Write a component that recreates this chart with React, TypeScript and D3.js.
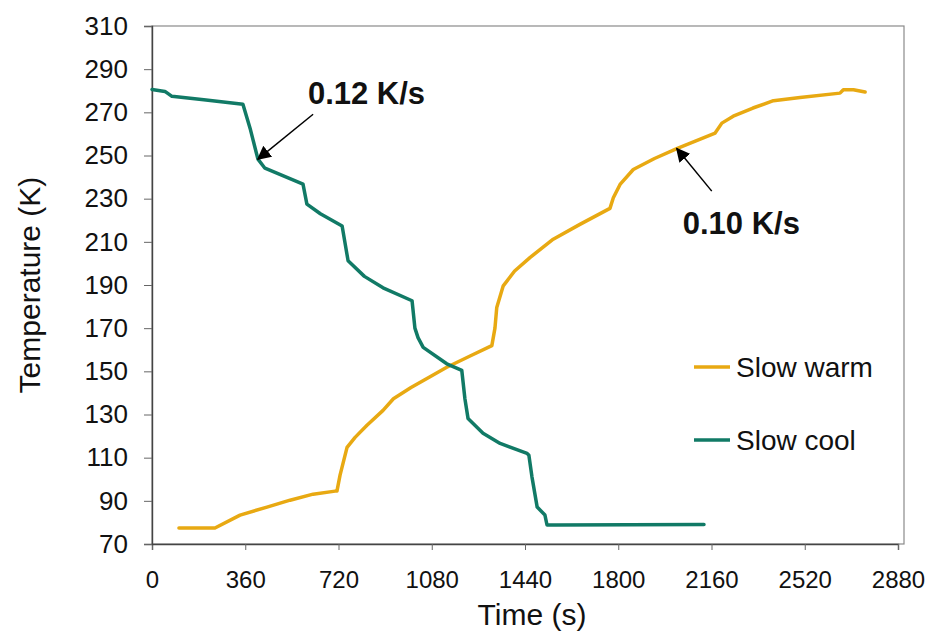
import React, { useEffect, useRef } from 'react';
import * as d3 from 'd3';

// Slow cool (time s, temperature K)
const coolTime = [0, 50, 77, 200, 351, 380, 409, 436, 583, 598, 650, 734, 757, 820, 892, 1004, 1015, 1027, 1047, 1138, 1196, 1208, 1220, 1278, 1344, 1448, 1455, 1467, 1487, 1517, 1525, 1560, 2131];
const coolTemp = [280.6, 279.7, 277.4, 275.8, 273.7, 262, 248.3, 244.1, 236.7, 227.5, 223, 217.3, 201.2, 194, 188.7, 182.7, 170, 165.6, 161.1, 153.5, 150.4, 137.3, 128.2, 121.3, 116.6, 112, 111.1, 101, 87.1, 83.4, 78.8, 78.8, 79];

// Slow warm
const warmTime = [104, 243, 340, 444, 533, 622, 707, 714, 726, 753, 784, 830, 892, 932, 1000, 1070, 1138, 1230, 1312, 1324, 1331, 1356, 1400, 1459, 1549, 1652, 1768, 1781, 1807, 1858, 1940, 2026, 2100, 2174, 2200, 2244, 2320, 2399, 2502, 2656, 2669, 2708, 2753];
const warmTemp = [77.4, 77.4, 83.4, 87.1, 90.3, 93.1, 94.5, 94.5, 101.9, 114.8, 119.4, 125, 131.9, 137.3, 142.5, 147.3, 151.9, 157.2, 161.9, 170, 179.6, 189.6, 196.5, 202.7, 211.2, 218.1, 225.5, 230.4, 236.6, 243.5, 248.6, 253.2, 256.8, 260.4, 265, 268.2, 272, 275.4, 276.9, 278.9, 280.5, 280.5, 279.4];

const xTicks = [0, 360, 720, 1080, 1440, 1800, 2160, 2520, 2880];
const yTicks = [70, 90, 110, 130, 150, 170, 190, 210, 230, 250, 270, 290, 310];

const seriesNames = ['Slow warm', 'Slow cool'];
const seriesColors = ['#E8A912', '#117A66'];

// annotations in data units: label position, arrow tail, arrow tip
const annotations = [
  { text: '0.12 K/s', lx: 602, ly: 273.7, x1: 622, y1: 269.1, x2: 409, y2: 248.3 },
  { text: '0.10 K/s', lx: 2049, ly: 213.6, x1: 2161, y1: 233.5, x2: 2026, y2: 253.2 },
];

export default function App() {
  const ref = useRef<SVGSVGElement>(null);

  useEffect(() => {
    const svg = d3.select(ref.current);
    svg.selectAll('*').remove();

    const font = 'Liberation Sans, Arial, sans-serif';
    const left = 152;
    const top = 26;
    const bottom = 544;
    const xEnd = 898;
    const frameRight = 904;

    const x = d3.scaleLinear().domain([0, 2880]).range([left, xEnd]);
    const y = d3.scaleLinear().domain([70, 310]).range([bottom, top]);

    // ------- Frame -------
    svg
      .append('rect')
      .attr('x', left)
      .attr('y', top)
      .attr('width', frameRight - left)
      .attr('height', bottom - top)
      .attr('fill', 'none')
      .attr('stroke', '#8a8a8a')
      .attr('stroke-width', 1.2);

    // ------- Axes -------
    const gx = svg
      .append('g')
      .attr('transform', `translate(0,${bottom})`)
      .call(d3.axisBottom(x).tickValues(xTicks).tickSize(6).tickPadding(21).tickFormat(d3.format('d')));
    gx.select('.domain').attr('stroke', '#444').attr('stroke-width', 1.4);
    gx.selectAll('line').attr('stroke', '#666');
    gx.selectAll('text').attr('font-family', font).attr('font-size', 24).attr('fill', '#111');

    const gy = svg
      .append('g')
      .attr('transform', `translate(${left},0)`)
      .call(d3.axisLeft(y).tickValues(yTicks).tickSize(8).tickPadding(16).tickFormat(d3.format('d')));
    gy.select('.domain').attr('stroke', '#444').attr('stroke-width', 1.4);
    gy.selectAll('line').attr('stroke', '#666');
    gy.selectAll('text').attr('font-family', font).attr('font-size', 26).attr('fill', '#111');

    // ------- Axis titles -------
    svg
      .append('text')
      .attr('x', 532)
      .attr('y', 625)
      .attr('text-anchor', 'middle')
      .attr('font-family', font)
      .attr('font-size', 30)
      .attr('fill', '#111')
      .text('Time (s)');

    svg
      .append('text')
      .attr('transform', `translate(40,285) rotate(-90)`)
      .attr('text-anchor', 'middle')
      .attr('font-family', font)
      .attr('font-size', 30)
      .attr('fill', '#111')
      .text('Temperature (K)');

    // ------- Lines -------
    const line = d3
      .line<[number, number]>()
      .x((d) => x(d[0]))
      .y((d) => y(d[1]));

    const warm = warmTime.map((t, i) => [t, warmTemp[i]] as [number, number]);
    const cool = coolTime.map((t, i) => [t, coolTemp[i]] as [number, number]);

    [warm, cool].forEach((pts, i) => {
      svg
        .append('path')
        .datum(pts)
        .attr('fill', 'none')
        .attr('stroke', seriesColors[i])
        .attr('stroke-width', 3.5)
        .attr('stroke-linejoin', 'round')
        .attr('stroke-linecap', 'round')
        .attr('d', line);
    });

    // ------- Annotations -------
    svg
      .append('defs')
      .append('marker')
      .attr('id', 'arrow')
      .attr('viewBox', '0 0 10 10')
      .attr('refX', 9)
      .attr('refY', 5)
      .attr('markerWidth', 14)
      .attr('markerHeight', 14)
      .attr('markerUnits', 'userSpaceOnUse')
      .attr('orient', 'auto')
      .append('path')
      .attr('d', 'M0,0 L10,5 L0,10 Z')
      .attr('fill', '#000');

    annotations.forEach((a) => {
      svg
        .append('line')
        .attr('x1', x(a.x1))
        .attr('y1', y(a.y1))
        .attr('x2', x(a.x2))
        .attr('y2', y(a.y2))
        .attr('stroke', '#000')
        .attr('stroke-width', 1.5)
        .attr('marker-end', 'url(#arrow)');
      svg
        .append('text')
        .attr('x', x(a.lx))
        .attr('y', y(a.ly))
        .attr('font-family', font)
        .attr('font-size', 31)
        .attr('font-weight', 'bold')
        .attr('fill', '#111')
        .text(a.text);
    });

    // ------- Legend -------
    const legendY = [367, 440];
    seriesNames.forEach((name, i) => {
      svg
        .append('line')
        .attr('x1', 694)
        .attr('x2', 730)
        .attr('y1', legendY[i])
        .attr('y2', legendY[i])
        .attr('stroke', seriesColors[i])
        .attr('stroke-width', 3.5);
      svg
        .append('text')
        .attr('x', 736)
        .attr('y', legendY[i])
        .attr('dy', '0.35em')
        .attr('font-family', font)
        .attr('font-size', 28)
        .attr('fill', '#111')
        .text(name);
    });
  }, []);

  return (
    <svg
      ref={ref}
      width={931}
      height={639}
      style={{ position: 'absolute', left: 0, top: 0, background: '#fff' }}
    />
  );
}
